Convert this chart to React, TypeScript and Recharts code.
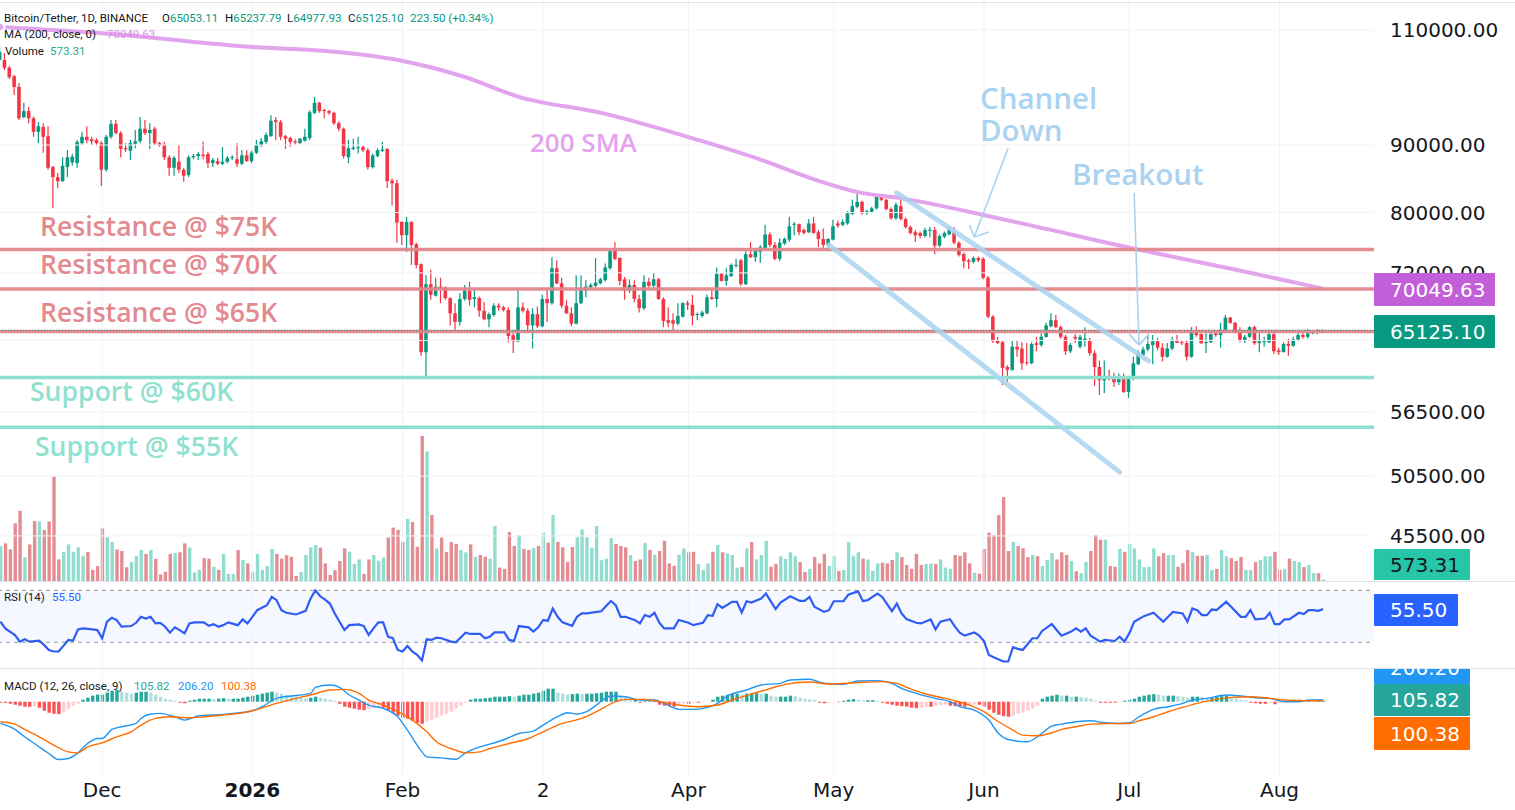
import React from "react";
import { ComposedChart, Bar, Line, XAxis, YAxis, ReferenceLine, ReferenceArea, Cell } from "recharts";

// ---------------- data (prices in thousands of USDT, index 0 = 10 Nov 2025, daily) ----------------
const opens = [
  104.4,104.4,103.0,101.5,99.6,94.5,95.5,94.3,92.1,92.9,
  91.4,86.6,85.1,84.5,86.6,87.3,87.2,90.3,91.3,90.9,
  90.8,90.3,86.2,91.3,93.4,91.9,89.5,89.1,90.2,90.6,
  92.6,91.9,92.6,90.3,90.0,88.1,86.5,87.4,86.2,85.4,
  88.1,88.3,88.5,88.6,87.2,87.5,87.1,87.4,88.0,87.8,
  87.1,88.4,87.5,88.8,90.0,90.5,91.4,94.0,93.7,91.4,
  91.1,90.6,90.3,90.7,91.1,95.2,96.9,95.7,95.5,95.2,
  93.5,92.6,88.1,89.4,89.5,89.7,89.2,86.6,88.3,89.1,
  89.4,84.6,84.2,78.7,76.9,78.7,75.7,73.1,62.7,70.6,
  69.2,70.3,70.2,68.9,67.1,66.1,68.8,69.8,68.8,68.9,
  67.4,66.4,66.9,68.0,67.8,67.5,64.6,63.9,67.8,67.4,
  65.7,67.0,65.6,68.8,68.3,72.6,70.7,68.0,67.1,65.9,
  68.3,69.8,70.2,70.4,70.7,71.1,72.6,74.8,73.9,71.2,
  69.8,70.5,68.8,67.7,70.9,70.4,71.2,68.8,66.3,66.3,
  65.9,66.7,68.3,68.1,66.9,66.8,67.1,69.0,68.8,71.9,
  71.0,71.6,72.9,73.6,70.6,74.4,74.0,74.7,75.2,77.0,
  75.6,73.8,75.8,76.3,78.3,78.4,77.6,77.3,78.5,77.3,
  76.4,75.6,76.3,78.5,78.3,78.5,79.8,80.8,81.5,79.9,
  80.1,80.6,82.3,81.8,80.5,79.2,80.9,79.1,78.0,77.3,
  77.2,76.8,77.5,77.6,75.5,76.7,77.0,77.3,75.9,74.4,
  73.6,73.4,73.9,73.8,71.4,66.7,64.0,63.8,61.1,60.8,
  63.3,63.1,61.6,61.5,63.7,63.5,64.4,65.6,66.3,65.5,
  64.4,62.8,64.4,63.3,64.0,64.0,62.6,61.1,59.7,60.0,
  60.0,59.5,60.1,58.5,59.9,61.4,62.4,63.0,63.5,63.9,
  63.2,62.2,63.1,64.0,63.8,63.7,62.2,64.9,64.7,63.7,
  63.8,64.8,64.6,65.2,66.6,66.0,64.9,64.0,64.4,65.5,
  63.7,63.8,63.8,64.7,62.9,62.7,63.6,63.4,64.1,64.6,
  64.4,64.8,65.0,65.053,
];
const highs = [
  106.9,105.7,103.3,101.7,100.3,96.9,96.2,94.6,93.7,93.5,
  93.0,86.8,85.7,88.1,89.2,88.6,90.8,92.1,93.0,91.3,
  91.1,90.6,91.6,94.0,94.0,92.2,90.3,90.8,92.4,94.5,
  94.0,93.5,92.9,90.5,90.5,88.4,88.3,90.0,86.5,88.4,
  88.6,88.9,90.5,88.9,88.0,88.0,89.7,88.3,88.4,90.3,
  89.2,89.2,89.1,90.8,91.1,92.0,94.8,94.5,94.0,91.6,
  91.3,90.9,91.1,92.6,95.6,97.9,97.0,95.9,95.7,95.4,
  93.8,92.8,90.8,91.0,91.3,90.0,89.5,88.7,89.5,90.5,
  89.5,84.9,84.7,78.8,79.4,78.8,75.9,73.2,71.7,72.4,
  71.4,71.4,70.3,69.0,68.3,69.5,70.5,70.9,70.1,69.1,
  68.4,67.2,68.3,68.3,68.0,67.8,64.8,70.1,68.4,67.7,
  67.7,67.9,69.3,69.9,74.0,73.6,71.4,68.7,67.8,71.7,
  71.7,71.1,70.7,73.9,71.4,73.2,74.9,76.0,74.0,71.5,
  71.2,71.1,69.3,71.7,71.4,72.0,71.4,69.0,67.8,67.1,
  68.3,68.4,68.6,69.3,67.2,67.4,69.3,70.2,72.7,72.0,
  72.6,73.2,73.8,73.8,74.9,76.0,75.2,75.6,78.3,77.3,
  76.0,76.5,76.6,79.4,78.7,78.5,77.8,79.1,79.4,77.6,
  77.8,76.5,79.0,78.9,79.0,80.2,81.8,82.8,81.7,80.4,
  80.8,82.5,82.6,82.0,80.7,81.4,82.0,79.3,78.2,77.6,
  77.4,77.9,78.0,78.0,77.0,77.4,78.0,78.0,76.1,74.6,
  73.8,74.1,74.1,74.0,71.6,66.9,64.4,64.0,61.3,64.0,
  64.0,63.8,63.7,63.8,64.4,64.8,66.0,67.1,66.9,65.7,
  64.6,63.7,64.7,64.6,65.5,64.3,62.9,61.8,61.8,60.8,
  60.5,60.4,60.4,60.1,62.2,62.9,63.3,64.6,64.6,64.3,
  63.7,63.7,64.4,64.6,64.0,64.0,65.5,65.6,64.8,64.8,
  64.9,65.0,66.0,66.9,66.7,66.1,65.5,64.6,65.6,65.7,
  64.8,64.4,65.2,64.9,63.2,63.8,64.2,64.4,64.9,64.9,
  65.3,65.1,65.3,65.238,
];
const lows = [
  104.2,102.6,101.0,98.2,94.0,94.3,93.5,91.3,90.3,88.8,
  86.2,80.6,83.5,84.4,85.1,86.8,86.5,90.0,90.3,90.0,
  89.9,83.8,85.9,91.0,91.7,88.1,88.9,87.7,89.5,90.3,
  91.6,89.4,90.0,89.7,87.7,85.3,85.3,85.7,84.4,85.1,
  87.8,87.7,87.8,86.5,86.6,86.9,86.9,87.2,87.7,86.6,
  86.9,87.4,87.2,88.6,89.7,90.2,91.3,90.8,90.8,89.4,
  89.7,90.1,90.2,90.5,90.8,95.0,95.2,94.3,94.9,93.2,
  92.2,87.9,87.2,89.2,88.7,88.9,86.2,86.4,88.1,88.9,
  83.5,81.0,75.9,75.6,74.7,73.0,72.6,62.3,59.9,68.7,
  69.1,68.3,68.7,65.7,65.2,65.7,68.6,68.0,67.8,66.7,
  66.3,65.5,66.7,67.4,67.3,63.8,62.6,63.8,67.2,64.9,
  63.1,65.4,65.5,66.1,68.1,70.6,67.7,67.0,65.6,65.8,
  68.2,69.0,70.0,70.2,70.6,70.9,72.4,73.6,70.5,68.7,
  69.5,68.4,67.2,67.5,70.2,70.2,68.7,65.5,65.5,64.9,
  65.7,66.6,67.5,65.7,66.3,66.6,67.0,68.7,67.8,70.9,
  70.4,71.5,72.7,70.4,70.5,73.9,73.4,73.3,74.9,75.3,
  73.6,73.5,75.6,76.0,76.9,76.9,77.0,77.2,77.1,75.3,
  74.9,75.3,76.2,77.9,78.1,78.3,79.7,80.6,79.7,79.7,
  79.9,80.4,81.6,80.3,79.0,79.0,78.9,77.8,77.0,76.0,
  76.5,76.6,76.6,74.4,75.3,76.5,76.9,75.7,74.1,72.6,
  72.5,73.2,73.4,71.2,66.5,63.7,63.6,59.2,59.5,60.7,
  62.2,60.8,61.3,61.4,62.8,63.3,64.3,65.5,65.4,64.2,
  62.4,62.6,63.7,63.1,63.3,62.3,59.1,58.2,58.4,59.7,
  59.0,59.2,58.4,57.9,59.7,61.3,62.2,62.8,61.4,62.9,
  61.7,62.1,62.9,63.7,63.5,61.8,62.1,64.4,63.6,62.6,
  63.7,64.4,63.2,64.9,65.9,64.8,63.8,63.7,64.3,63.5,
  62.7,63.3,63.7,62.5,62.4,62.7,62.3,63.3,63.9,64.2,
  64.2,64.7,64.7,64.978,
];
const closes = [
  105.9,103.0,101.3,99.6,94.3,95.5,94.3,92.1,93.0,91.3,
  86.5,85.1,84.5,86.8,88.1,88.2,90.5,91.3,90.8,90.6,
  90.3,86.2,91.3,93.4,91.9,89.4,89.3,90.3,90.6,92.6,
  91.9,92.4,90.3,90.0,88.1,86.5,88.0,86.2,85.3,88.1,
  88.3,88.6,88.3,87.2,87.7,87.1,87.4,88.0,88.1,87.1,
  88.4,87.5,88.8,90.0,90.6,91.6,93.9,93.7,91.3,91.0,
  90.5,90.4,91.0,91.3,95.3,96.9,95.5,95.5,95.2,93.5,
  92.6,88.3,89.5,89.6,89.6,89.2,86.6,88.4,89.2,89.3,
  84.5,84.2,78.6,76.9,78.7,75.6,73.0,62.7,70.6,69.3,
  70.3,70.1,68.9,67.1,66.1,68.8,69.8,68.7,69.0,67.4,
  66.4,67.0,68.0,67.8,67.5,64.5,63.9,67.8,67.4,65.7,
  67.0,65.6,68.8,68.3,72.6,70.7,68.0,67.1,65.9,68.3,
  69.9,70.3,70.5,70.8,71.2,72.7,74.8,73.8,71.0,69.8,
  70.5,68.8,67.7,70.9,70.4,71.2,68.8,66.2,66.0,65.9,
  66.8,68.3,68.1,66.8,67.0,67.2,69.0,68.8,71.9,71.0,
  71.7,73.0,73.0,70.6,74.4,74.0,74.8,75.3,77.0,75.6,
  73.8,75.9,76.4,78.1,78.4,77.3,77.2,78.5,77.2,76.4,
  75.6,76.4,78.1,78.2,78.7,79.9,80.9,81.5,79.9,80.2,
  80.6,82.2,81.8,80.5,79.2,81.1,79.1,78.0,77.2,76.9,
  76.8,77.6,77.6,75.5,76.8,77.2,77.7,75.9,74.3,73.5,
  73.4,73.9,73.6,71.4,66.7,63.9,63.7,61.0,60.8,63.3,
  63.0,61.5,61.5,63.6,63.5,64.4,65.7,66.3,65.5,64.4,
  62.8,63.5,64.2,64.4,64.2,62.6,61.1,59.7,60.0,59.9,
  59.5,60.1,58.5,59.9,61.5,62.5,63.0,63.6,63.9,63.2,
  62.2,63.1,64.0,63.75,63.7,62.2,64.9,64.6,63.7,63.8,
  64.7,64.6,65.2,66.6,66.0,64.9,64.0,64.4,65.5,63.7,
  63.9,63.9,64.7,62.8,62.7,63.6,63.4,64.1,64.6,64.4,
  64.8,64.9,64.9,65.125,
];
// volume in thousands of BTC
const volumes = [
  13.3,14.3,12.0,21.9,26.7,9.0,13.9,22.8,22.6,19.4,
  22.6,39.7,8.2,11.0,13.9,11.1,12.8,9.6,11.1,4.2,
  5.7,20.0,16.6,14.8,12.0,11.4,5.2,7.2,9.5,11.8,
  10.3,11.8,8.4,2.5,3.5,10.3,10.6,10.9,14.3,12.7,
  3.2,4.2,8.7,8.5,5.4,4.2,10.3,2.7,2.7,11.8,
  8.0,6.7,3.5,10.3,4.2,5.7,12.2,10.3,8.5,9.8,
  9.2,1.9,3.4,9.9,12.8,13.6,12.7,6.7,2.3,4.1,
  7.6,12.4,11.1,6.5,8.2,2.7,8.2,9.9,7.7,8.9,
  16.5,20.3,19.4,14.8,23.6,22.4,13.0,55.1,49.2,25.1,
  12.4,16.5,11.0,14.8,14.1,11.8,10.9,13.9,9.2,9.9,
  9.2,8.5,20.9,5.1,4.6,18.6,13.3,17.5,12.2,11.8,
  12.5,13.3,18.4,14.6,25.1,14.8,12.8,7.2,12.9,16.6,
  19.6,16.6,12.7,20.9,7.9,8.5,16.3,14.1,13.3,12.8,
  9.9,7.6,8.2,14.4,11.8,10.0,11.4,15.3,6.7,5.8,
  10.0,12.4,10.9,11.1,6.5,4.2,6.7,11.1,13.7,10.9,
  10.5,9.9,5.1,5.3,12.4,14.8,8.2,9.9,15.3,5.4,
  6.5,9.4,8.4,10.9,9.4,7.2,3.4,4.6,9.1,6.7,
  10.3,5.7,9.4,3.8,4.2,14.8,9.6,10.9,8.5,8.2,
  3.9,6.7,7.0,6.7,8.0,10.9,9.1,6.1,4.6,10.3,
  6.1,6.5,6.7,6.5,8.2,5.1,4.6,9.9,9.6,10.9,
  6.7,3.2,2.8,12.2,18.4,17.5,25.1,31.9,11.4,14.8,
  13.3,12.4,9.1,9.9,9.4,5.7,8.0,10.6,8.2,10.9,
  9.9,7.6,3.7,3.0,7.2,11.4,17.5,15.7,15.7,5.7,
  5.4,12.2,11.1,14.1,12.4,8.2,5.3,5.4,12.4,9.4,
  10.6,9.9,9.9,5.4,6.8,11.8,11.0,9.6,9.6,9.9,
  4.2,4.6,11.8,9.4,8.7,7.6,9.1,4.2,4.2,7.2,
  8.0,9.4,9.4,11.1,4.2,4.6,8.5,7.6,7.2,5.3,
  6.1,3.0,3.0,0.573,
];
// 200-day SMA readings [candle index, value in thousands]
const smaPoints: [number, number][] = [
  [0,110.6],[21,109.4],[52,106.8],[69,105.9],[82,104.4],[96,101.3],[107,97.9],[124,95.2],
  [144,90.8],[157,87.7],[167,85.0],[177,82.9],[186,82.0],[210,78.6],[234,75.1],[255,72.4],[273,70.05],
];
// RSI(14) readings [candle index, value]
const rsiPoints: [number, number][] = [
  [0,45.8],[1,40.7],[3,35.6],[4,30.5],[5,32.3],[6,30.5],[8,31.3],[9,28.0],[10,24.1],[11,22.9],
  [12,22.9],[13,27.2],[14,31.8],[15,31.3],[16,39.9],[17,40.7],[19,39.9],[20,39.4],[21,33.1],[22,45.8],
  [23,48.9],[24,47.1],[25,42.0],[27,42.5],[28,45.0],[29,49.6],[30,48.3],[31,49.6],[32,44.5],[33,45.0],
  [34,42.0],[35,37.4],[36,41.5],[37,39.4],[38,36.9],[39,44.5],[40,45.3],[42,45.3],[43,42.7],[44,44.0],
  [45,42.0],[46,43.2],[47,45.3],[49,43.2],[50,47.6],[51,44.5],[52,49.6],[53,54.7],[55,58.5],[56,64.9],
  [57,62.4],[58,54.7],[59,52.7],[61,51.4],[63,54.2],[64,63.6],[65,70.0],[66,65.4],[67,62.9],[68,59.8],
  [69,52.2],[71,39.4],[72,43.2],[74,43.8],[75,42.5],[76,35.6],[77,40.7],[78,45.3],[79,45.3],[80,34.3],
  [81,33.1],[82,24.1],[83,22.9],[84,27.2],[85,22.9],[86,20.3],[87,16.0],[88,32.3],[89,31.8],[90,33.6],
  [91,33.1],[93,30.5],[94,30.0],[96,37.4],[97,36.4],[99,36.4],[100,33.1],[101,34.3],[102,37.6],[104,37.6],
  [105,31.8],[106,31.0],[107,42.5],[109,41.5],[110,38.2],[111,41.5],[112,47.1],[113,46.6],[114,56.0],[115,49.6],
  [116,45.3],[118,42.7],[119,49.6],[120,52.2],[121,52.2],[124,53.9],[126,61.8],[127,58.5],[128,49.6],[129,49.6],
  [131,47.0],[132,44.5],[133,51.0],[134,49.6],[135,52.7],[136,45.0],[137,40.7],[139,40.7],[140,47.1],[142,45.0],
  [143,43.2],[145,45.0],[146,50.9],[147,50.4],[148,59.3],[149,56.5],[151,61.1],[152,61.1],[153,52.9],[154,61.6],
  [155,60.6],[157,63.6],[158,67.5],[160,55.5],[161,60.6],[163,65.4],[165,61.8],[166,61.8],[167,64.9],[168,57.3],
  [170,53.4],[171,54.7],[172,61.6],[174,61.6],[175,66.7],[177,69.2],[178,61.8],[179,62.4],[181,67.5],[182,64.9],
  [184,53.9],[185,59.8],[186,52.2],[187,47.8],[189,45.0],[190,44.5],[192,47.6],[193,39.9],[194,45.8],[196,47.8],
  [197,42.0],[198,37.4],[199,35.1],[201,37.6],[202,35.1],[203,31.0],[204,20.3],[205,18.5],[207,15.2],[208,15.2],
  [209,26.2],[210,24.9],[211,24.1],[213,33.1],[214,33.1],[215,38.7],[217,44.0],[218,39.4],[219,35.1],[221,38.2],
  [222,40.7],[223,38.2],[224,40.7],[225,35.1],[227,30.5],[228,31.8],[230,31.0],[231,34.3],[232,30.5],[233,36.9],
  [234,45.8],[236,50.1],[238,52.7],[240,45.8],[241,49.6],[242,53.4],[244,52.2],[245,45.8],[246,56.0],[247,54.7],
  [248,50.9],[249,50.9],[250,55.2],[251,54.7],[253,61.1],[254,57.3],[256,49.6],[257,49.6],[258,54.7],[259,47.6],
  [261,48.3],[262,52.7],[263,44.0],[264,44.0],[265,47.6],[266,47.6],[268,52.7],[269,51.7],[270,54.7],[271,54.7],
  [272,54.2],[273,55.5],
];
// MACD(12,26,9) line and signal readings [candle index, value in USDT]
const macdPoints: [number, number][] = [
  [0,-2275],[3,-2905],[5,-3675],[8,-4725],[10,-5425],[12,-6055],[14,-5950],[16,-5355],[18,-4375],[20,-3850],
  [21,-3850],[23,-2905],[25,-2625],[28,-2275],[29,-1750],[31,-1295],[33,-1225],[36,-1575],[38,-1925],[41,-1470],
  [44,-1400],[48,-1225],[52,-945],[54,-525],[57,350],[60,595],[64,875],[65,1505],[68,1750],[70,1505],
  [72,700],[74,175],[76,-350],[79,-700],[82,-1575],[84,-2975],[87,-5250],[88,-5775],[91,-5880],[94,-6020],
  [96,-5355],[99,-4725],[101,-4445],[104,-3955],[107,-3325],[110,-3080],[112,-2450],[115,-1575],[117,-1155],[119,-1295],
  [121,-1050],[123,-350],[126,595],[129,525],[132,175],[135,175],[137,-175],[140,-805],[143,-805],[145,-700],
  [148,-175],[150,595],[154,1225],[157,1750],[161,1925],[163,2275],[167,2345],[170,1925],[174,1820],[177,2170],
  [181,2205],[184,1925],[186,1400],[189,875],[193,350],[196,0],[198,-525],[201,-875],[204,-1925],[206,-3325],
  [208,-3955],[212,-4200],[214,-3675],[217,-2555],[219,-2345],[222,-2100],[225,-1995],[228,-2205],[231,-2275],[233,-2205],
  [235,-1575],[238,-805],[241,-525],[244,-175],[246,175],[249,350],[253,700],[256,595],[259,420],[262,350],
  [265,0],[268,0],[270,175],[273,206.2],
];
const signalPoints: [number, number][] = [
  [0,-2100],[3,-2345],[5,-2905],[8,-3675],[11,-4550],[14,-5250],[16,-5355],[18,-4725],[21,-4305],[24,-3675],
  [27,-3150],[29,-2450],[32,-1750],[35,-1575],[39,-1680],[42,-1575],[46,-1400],[50,-1155],[53,-805],[57,-175],
  [61,350],[64,700],[68,1225],[71,1295],[74,875],[76,175],[79,-350],[82,-1050],[85,-1925],[88,-3150],
  [90,-4200],[93,-4900],[96,-5355],[99,-5250],[101,-4900],[105,-4375],[109,-3850],[112,-3150],[116,-2275],[120,-1750],
  [123,-1050],[127,0],[129,245],[133,245],[135,105],[138,-175],[140,-350],[144,-525],[148,-350],[151,175],
  [155,805],[159,1400],[162,1820],[167,2065],[171,1855],[175,1925],[178,2030],[182,2100],[185,1925],[187,1505],
  [191,805],[195,350],[197,105],[200,-350],[203,-1050],[206,-2100],[209,-2975],[211,-3500],[214,-3570],[217,-3255],
  [219,-2905],[222,-2625],[225,-2345],[229,-2275],[233,-2275],[235,-1995],[238,-1575],[241,-1050],[244,-595],[247,-175],
  [251,245],[254,455],[258,525],[262,350],[265,175],[269,105],[273,100.38],
];
const histValues = [
  -105,-105,-210,-315,-420,-525,-525,-470,-630,-945,
  -1155,-1260,-1310,-1050,-735,-420,-210,210,420,630,
  735,735,945,1155,1260,1050,945,840,945,1050,
  1050,945,735,525,315,210,105,-105,-160,105,
  210,315,315,315,265,315,370,315,315,315,
  420,525,630,735,840,945,1050,945,840,735,
  630,525,420,370,420,525,420,315,210,105,
  -210,-525,-630,-735,-840,-890,-735,-630,-525,-630,
  -945,-1155,-1470,-1680,-1785,-1995,-2205,-2310,-2100,-1890,
  -1680,-1470,-1260,-1050,-735,-420,-105,210,315,315,
  370,420,525,525,525,580,525,630,735,735,
  840,945,1155,1365,1365,945,840,735,790,840,
  790,840,840,890,945,1050,1050,1050,630,420,
  210,210,-105,105,105,105,-315,-420,-470,-525,
  -315,-210,-210,-105,-105,-55,-30,210,525,630,
  735,790,840,735,840,840,890,840,840,630,
  525,525,525,630,580,420,315,265,210,-105,
  -160,-105,-55,-55,105,210,265,210,160,160,
  160,105,-105,-210,-315,-420,-470,-525,-630,-680,
  -630,-525,-525,-420,-370,-315,-420,-470,-525,-525,
  -420,-315,-315,-525,-840,-1155,-1365,-1520,-1575,-1470,
  -1260,-1155,-945,-735,-420,315,525,630,735,630,
  630,525,525,470,420,315,105,-105,-105,-105,
  -105,-55,105,210,315,525,630,735,790,735,
  630,630,630,580,525,420,525,525,470,420,
  420,525,580,630,420,315,210,160,-105,-160,
  -210,-210,-160,-265,-105,105,160,210,210,160,
  160,105,105,105.82,
];
const priceTicks = [45.5, 50.5, 56.5, 64, 72, 80, 90, 110];
const monthTicks = [21, 52, 83, 112, 142, 172, 203, 233, 264];
const monthLabels = ["Dec", "2026", "Feb", "2", "Apr", "May", "Jun", "Jul", "Aug"];
const resistanceLevels = [75, 70, 65];
const supportLevels = [60, 55];
const lastClose = 65.1251;
const channelLower: [number, number][] = [[171, 75.6], [231, 50.86]];
const channelUpper: [number, number][] = [[185, 82.8], [237, 61.74]];
const arrowChannel: [number, number][][] = [
  [[208, 89.53], [201, 76.65]], [[200, 78.27], [201, 76.65]], [[201, 76.65], [204, 77.32]],
];
const arrowBreakout: [number, number][][] = [
  [[234, 82.77], [235, 63.48]], [[233, 64.71], [235, 63.48]], [[235, 63.48], [237, 64.71]],
];

// ---------------- styling ----------------
const SLOTS = 284;
const CHART_LEFT = -2;
const CHART_W = 1517;
const AXIS_W = 141;
const MAIN_H = 581;
const UP = "#089981";
const DOWN = "#f23645";
const VOL_UP = "#90ddcf";
const VOL_DOWN = "#e38c91";
const GRID = "#f0f3fa";
const RES = "#e2878d";
const SUP = "#8de0cf";
const BLUE_NOTE = "#a9d3f0";
const FONT_AXIS = "'DejaVu Sans', sans-serif";
const FONT_LEGEND = "Roboto, 'DejaVu Sans', sans-serif";
const FONT_NOTE = "'Open Sans', sans-serif";

const N = opens.length;
const isUp = (k: number) => closes[k] >= opens[k];
const smaMap = new Map(smaPoints);
const rsiMap = new Map(rsiPoints);
const macdMap = new Map(macdPoints);
const signalMap = new Map(signalPoints);

const slotIdx = Array.from({ length: SLOTS }, (_, i) => i);
const mainRows = slotIdx.map((i) => ({
  i,
  wick: i < N ? [lows[i], highs[i]] : null,
  body: i < N ? [Math.min(opens[i], closes[i]), Math.max(opens[i], closes[i])] : null,
  sma: smaMap.has(i) ? smaMap.get(i) : null,
}));
const volRows = slotIdx.map((i) => ({ i, vol: i < N ? volumes[i] : null }));
const rsiRows = slotIdx.map((i) => ({ i, rsi: rsiMap.has(i) ? rsiMap.get(i) : null }));
const macdRows = slotIdx.map((i) => ({
  i,
  hist: i < N ? histValues[i] : null,
  macd: macdMap.has(i) ? macdMap.get(i) : null,
  signal: signalMap.has(i) ? signalMap.get(i) : null,
}));
const histColor = (k: number) => {
  const h = histValues[k];
  const p = k > 0 ? histValues[k - 1] : h;
  if (h >= 0) return h >= p ? "#26a69a" : "#b2dfdb";
  return h <= p ? "#ff5252" : "#ffcdd2";
};
const candleColor = (k: number) => (k < N ? (isUp(k) ? UP : DOWN) : "transparent");

const seg = (p: [number, number][]) => p.map(([x, y]) => ({ x, y }));

const XTick = (props: any) => {
  const { x, y, payload } = props;
  const k = monthTicks.indexOf(payload.value);
  const label = k >= 0 ? monthLabels[k] : "";
  return (
    <text x={x} y={y + 22} textAnchor="middle" fontSize={20} fontFamily={FONT_AXIS}
      fontWeight={label === "2026" ? 700 : 400} fill="#131722">{label}</text>
  );
};

const Note = ({ x, cy, size, color, children }: any) => (
  <text x={x} y={cy + size * 0.36} fontSize={size} fontWeight={600} fontFamily={FONT_NOTE} fill={color}>{children}</text>
);

const Tag = ({ y, h, w, bg, color, text }: any) => (
  <g>
    <rect x={1374} y={y} width={w} height={h} fill={bg} rx={1} />
    <text x={1390} y={y + h / 2 + 7.2} fontSize={20} fontFamily={FONT_AXIS} fill={color}>{text}</text>
  </g>
);

const abs = (top: number): React.CSSProperties => ({ position: "absolute", left: CHART_LEFT, top });

export default function App() {
  return (
    <div style={{ position: "absolute", left: 0, top: 0, width: 1515, height: 810, background: "#ffffff", overflow: "hidden" }}>
      {/* volume layer (behind price) */}
      <div style={abs(0)}>
        <ComposedChart width={CHART_W} height={MAIN_H} data={volRows} margin={{ top: 0, right: AXIS_W, bottom: 0, left: 0 }}>
          <XAxis dataKey="i" type="category" scale="band" hide />
          <YAxis hide domain={[0, 220.8]} allowDataOverflow />
          {monthTicks.map((t) => <ReferenceLine key={"vg" + t} x={t} stroke={GRID} strokeWidth={1} />)}
          <Bar dataKey="vol" barSize={3.4} isAnimationActive={false}>
            {volRows.map((r) => <Cell key={r.i} fill={r.i < N ? (isUp(r.i) ? VOL_UP : VOL_DOWN) : "transparent"} />)}
          </Bar>
        </ComposedChart>
      </div>

      {/* price layer */}
      <div style={abs(0)}>
        <ComposedChart width={CHART_W} height={MAIN_H} data={mainRows} barGap={-2.4} margin={{ top: 0, right: 0, bottom: 0, left: 0 }}>
          <XAxis dataKey="i" type="category" scale="band" hide />
          <YAxis orientation="right" width={AXIS_W} scale="log" type="number" domain={[42.06, 115.92]} allowDataOverflow
            ticks={priceTicks} interval={0} tickLine={false} axisLine={false} tickSize={6} tickMargin={10}
            tick={{ fill: "#131722", fontSize: 20, fontFamily: FONT_AXIS }}
            tickFormatter={(v: number) => (v * 1000).toFixed(2)} />
          {priceTicks.map((t) => <ReferenceLine key={"hg" + t} y={t} stroke={GRID} strokeWidth={1} />)}
          <Bar dataKey="wick" barSize={1.2} isAnimationActive={false}>
            {mainRows.map((r) => <Cell key={r.i} fill={candleColor(r.i)} />)}
          </Bar>
          <Bar dataKey="body" barSize={3.6} minPointSize={1} isAnimationActive={false}>
            {mainRows.map((r) => <Cell key={r.i} fill={candleColor(r.i)} />)}
          </Bar>
          <Line dataKey="sma" type="monotone" connectNulls dot={false} stroke="#e2a4ed" strokeWidth={4} isAnimationActive={false} />
          {resistanceLevels.map((v) => <ReferenceLine key={"r" + v} y={v} stroke={RES} strokeWidth={3.5} strokeOpacity={0.95} />)}
          {supportLevels.map((v) => <ReferenceLine key={"s" + v} y={v} stroke={SUP} strokeWidth={3.5} />)}
          <ReferenceLine y={lastClose} stroke={UP} strokeWidth={1} strokeDasharray="1 2" />
          <ReferenceLine segment={seg(channelLower)} stroke={BLUE_NOTE} strokeWidth={5} strokeOpacity={0.85} strokeLinecap="round" />
          <ReferenceLine segment={seg(channelUpper)} stroke={BLUE_NOTE} strokeWidth={5} strokeOpacity={0.85} strokeLinecap="round" />
          {arrowChannel.map((s, k) => <ReferenceLine key={"ac" + k} segment={seg(s)} stroke={BLUE_NOTE} strokeWidth={1.6} />)}
          {arrowBreakout.map((s, k) => <ReferenceLine key={"ab" + k} segment={seg(s)} stroke={BLUE_NOTE} strokeWidth={1.6} />)}
        </ComposedChart>
      </div>

      {/* RSI pane */}
      <div style={abs(582)}>
        <ComposedChart width={CHART_W} height={86} data={rsiRows} margin={{ top: 0, right: AXIS_W, bottom: 0, left: 0 }}>
          <XAxis dataKey="i" type="category" scale="band" hide />
          <YAxis hide domain={[10.2, 76.4]} allowDataOverflow />
          <ReferenceArea y1={30} y2={70} fill="#2962ff" fillOpacity={0.045} stroke="none" />
          {monthTicks.map((t) => <ReferenceLine key={"rg" + t} x={t} stroke={GRID} strokeWidth={1} />)}
          <ReferenceLine y={70} stroke="#9598a1" strokeDasharray="4 4" strokeWidth={1} />
          <ReferenceLine y={30} stroke="#9598a1" strokeDasharray="4 4" strokeWidth={1} />
          <Line dataKey="rsi" type="linear" connectNulls dot={false} stroke="#2f5cf5" strokeWidth={2.2} isAnimationActive={false} />
        </ComposedChart>
      </div>

      {/* MACD pane + time axis */}
      <div style={abs(669)}>
        <ComposedChart width={CHART_W} height={141} data={macdRows} margin={{ top: 0, right: AXIS_W, bottom: 0, left: 0 }}>
          <XAxis dataKey="i" type="category" scale="band" ticks={monthTicks} interval={0} tickLine={false} axisLine={false}
            tickSize={0} tickMargin={0} height={35} tick={<XTick />} />
          <YAxis hide domain={[-7675, 3424]} allowDataOverflow />
          {monthTicks.map((t) => <ReferenceLine key={"mg" + t} x={t} stroke={GRID} strokeWidth={1} />)}
          <Bar dataKey="hist" barSize={3.4} isAnimationActive={false}>
            {macdRows.map((r) => <Cell key={r.i} fill={r.i < N ? histColor(r.i) : "transparent"} />)}
          </Bar>
          <Line dataKey="macd" type="monotone" connectNulls dot={false} stroke="#2196f3" strokeWidth={1.4} isAnimationActive={false} />
          <Line dataKey="signal" type="monotone" connectNulls dot={false} stroke="#ff6d00" strokeWidth={1.4} isAnimationActive={false} />
        </ComposedChart>
      </div>

      {/* overlay: legends, drawings text, price tags, pane separators */}
      <svg width={1515} height={810} style={{ position: "absolute", left: 0, top: 0, pointerEvents: "none" }}>
        <line x1={0} x2={1515} y1={2.5} y2={2.5} stroke="#e0e3eb" strokeWidth={1} />
        <g fontFamily={FONT_LEGEND} fontSize={11.5}>
          <text x={4} y={21.8} fill="#131722">Bitcoin/Tether, 1D, BINANCE</text>
          <text x={162} y={21.8}><tspan fill="#131722">O</tspan><tspan fill={UP}>65053.11</tspan></text>
          <text x={225} y={21.8}><tspan fill="#131722">H</tspan><tspan fill={UP}>65237.79</tspan></text>
          <text x={287} y={21.8}><tspan fill="#131722">L</tspan><tspan fill={UP}>64977.93</tspan></text>
          <text x={348} y={21.8}><tspan fill="#131722">C</tspan><tspan fill={UP}>65125.10</tspan></text>
          <text x={410} y={21.8} fill={UP}>223.50 (+0.34%)</text>
          <text x={4} y={38.4} fill="#131722">MA (200, close, 0)</text>
          <text x={107} y={38.4} fill="#d88fe6">70049.63</text>
          <text x={5} y={54.8} fill="#131722">Volume</text>
          <text x={50} y={54.8} fill="#22ab94">573.31</text>
          <text x={4} y={601} fill="#131722">RSI (14)</text>
          <text x={52} y={601} fill="#2962ff">55.50</text>
          <text x={4} y={690} fill="#131722">MACD (12, 26, close, 9)</text>
          <text x={134} y={690} fill="#26a69a">105.82</text>
          <text x={178} y={690} fill="#2196f3">206.20</text>
          <text x={221} y={690} fill="#ff6d00">100.38</text>
        </g>

        <Note x={40} cy={226} size={26.6} color="#e38a90">Resistance @ $75K</Note>
        <Note x={40} cy={264} size={26.6} color="#e38a90">Resistance @ $70K</Note>
        <Note x={40} cy={312} size={26.6} color="#e38a90">Resistance @ $65K</Note>
        <Note x={30} cy={391} size={26.6} color="#8fe1d0">Support @ $60K</Note>
        <Note x={35} cy={446} size={26.6} color="#8fe1d0">Support @ $55K</Note>
        <Note x={530} cy={143} size={26} color="#e4a3ee">200 SMA</Note>
        <Note x={980} cy={98} size={29.5} color={BLUE_NOTE}>Channel</Note>
        <Note x={980} cy={130} size={29.5} color={BLUE_NOTE}>Down</Note>
        <Note x={1072} cy={174} size={29.5} color={BLUE_NOTE}>Breakout</Note>

        <Tag y={273} h={33} w={121} bg="#c25fd8" color="#ffffff" text="70049.63" />
        <Tag y={315} h={33} w={121} bg="#089981" color="#ffffff" text="65125.10" />
        <Tag y={549} h={31} w={96} bg="#26c6a6" color="#131722" text="573.31" />
        <Tag y={594} h={32} w={84} bg="#2962ff" color="#ffffff" text="55.50" />
        <Tag y={652} h={32} w={96} bg="#2196f3" color="#ffffff" text="206.20" />
        <rect x={1374} y={627} width={141} height={41.5} fill="#ffffff" />
        <Tag y={684} h={32} w={96} bg="#26a69a" color="#ffffff" text="105.82" />
        <Tag y={717} h={33} w={96} bg="#ff6d00" color="#ffffff" text="100.38" />

        <line x1={0} x2={1515} y1={581.5} y2={581.5} stroke="#e0e3eb" strokeWidth={1} />
        <line x1={0} x2={1515} y1={668.5} y2={668.5} stroke="#e0e3eb" strokeWidth={1} />
      </svg>
    </div>
  );
}
